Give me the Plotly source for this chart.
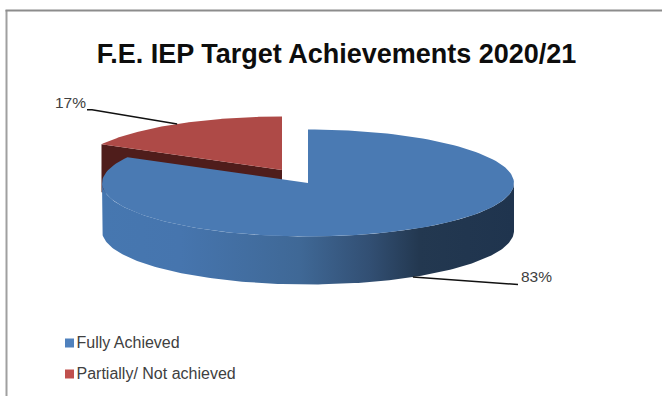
import numpy as np
import plotly.graph_objects as go

categories = ["Fully Achieved", "Partially/ Not achieved"]
shares = [83, 17]
value_labels = ["83%", "17%"]
title_text = "F.E. IEP Target Achievements 2020/21"

TOP_COLORS = ["#4A7AB3", "#AE4A47"]
LEGEND_COLORS = ["#4F81BD", "#C0504D"]
CUT_FACE_COLOR = "#4F1D1B"
TEXT_COLOR = "#404040"

# Projected ellipse of the tilted pie, in page pixels
RX, RY, DEPTH = 206, 53.5, 48
BLUE_CENTER = (308, 183)
RED_CENTER = (282, 170)


def ellipse(center, start_deg, end_deg, drop=0, n=160):
    """Points on the rim, with angles running clockwise from twelve o'clock."""
    t = np.radians(np.linspace(start_deg, end_deg, n))
    return center[0] + RX * np.sin(t), center[1] - RY * np.cos(t) + drop


sweep_blue = 360 * shares[0] / sum(shares)
mid_blue = sweep_blue / 2
mid_red = sweep_blue + (360 - sweep_blue) / 2

fig = go.Figure()


def polygon(x, y, color, **extra):
    fig.add_trace(go.Scatter(
        x=list(x), y=list(y), mode="lines", fill="toself", fillcolor=color,
        line=dict(width=0), hoverinfo="skip", showlegend=False, **extra,
    ))


# Exploded red slice: inner cut face first, then its top
ax, ay = ellipse(RED_CENTER, sweep_blue, sweep_blue, n=1)
polygon(
    [ax[0], RED_CENTER[0], RED_CENTER[0], ax[0], ax[0]],
    [ay[0], RED_CENTER[1], RED_CENTER[1] + DEPTH, ay[0] + DEPTH, ay[0]],
    CUT_FACE_COLOR,
)
rx, ry = ellipse(RED_CENTER, sweep_blue, 360)
polygon(np.r_[RED_CENTER[0], rx, RED_CENTER[0]], np.r_[RED_CENTER[1], ry, RED_CENTER[1]], TOP_COLORS[1])

# Blue slice: shaded outer wall, then its top
ux, uy = ellipse(BLUE_CENTER, 90, 270)
lx, ly = ellipse(BLUE_CENTER, 270, 90, drop=DEPTH)
fig.add_trace(go.Scatter(
    x=np.r_[ux, lx, ux[0]], y=np.r_[uy, ly, uy[0]], mode="lines", fill="toself",
    fillgradient=dict(
        type="horizontal",
        colorscale=[[0, "#4677B0"], [0.19, "#4675AE"], [0.48, "#3F6896"],
                    [0.65, "#324F73"], [0.77, "#233850"], [1, "#1F344E"]],
    ),
    line=dict(width=0), hoverinfo="skip", showlegend=False,
))
bx, by = ellipse(BLUE_CENTER, 0, sweep_blue)
polygon(np.r_[BLUE_CENTER[0], bx, BLUE_CENTER[0]], np.r_[BLUE_CENTER[1], by, BLUE_CENTER[1]], TOP_COLORS[0])

# Leader lines start at the middle of each slice's rim
ex, ey = ellipse(BLUE_CENTER, mid_blue, mid_blue, drop=DEPTH, n=1)
fx, fy = ellipse(RED_CENTER, mid_red, mid_red, n=1)
fig.add_trace(go.Scatter(x=[ex[0], 518], y=[ey[0], 284.5], mode="lines",
                         line=dict(color="#111111", width=1.5), hoverinfo="skip", showlegend=False))
fig.add_trace(go.Scatter(x=[fx[0], 92, 87], y=[fy[0], 109.7, 109.7], mode="lines",
                         line=dict(color="#111111", width=1.5), hoverinfo="skip", showlegend=False))

# Value labels
fig.add_trace(go.Scatter(
    x=[521, 86], y=[278.5, 104.5], mode="text", text=value_labels,
    textposition=["middle right", "middle left"],
    textfont=dict(family="Liberation Sans", size=15.5, color=TEXT_COLOR),
    hoverinfo="skip", showlegend=False,
))

# Key below the pie: swatches and their captions
fig.add_trace(go.Scatter(
    x=[69.5, 69.5], y=[343, 374], mode="markers",
    marker=dict(symbol="square", size=9, color=LEGEND_COLORS),
    hoverinfo="skip", showlegend=False,
))
fig.add_trace(go.Scatter(
    x=[76.5, 76.5], y=[343.5, 374.5], mode="text", text=categories,
    textposition="middle right",
    textfont=dict(family="Liberation Sans", size=16, color=TEXT_COLOR),
    hoverinfo="skip", showlegend=False,
))

fig.update_layout(
    width=662, height=396, margin=dict(l=0, r=0, t=0, b=0),
    paper_bgcolor="white", plot_bgcolor="white", showlegend=False,
    title=dict(text="<b>" + title_text + "</b>", x=336.5 / 662, xanchor="center",
               y=1 - 54 / 396, yanchor="middle",
               font=dict(family="Liberation Sans", size=27, color="#0D0D0D")),
    xaxis=dict(range=[0, 662], visible=False, fixedrange=True),
    yaxis=dict(range=[396, 0], visible=False, fixedrange=True),
    shapes=[
        dict(type="line", x0=6.5, x1=6.5, y0=10, y1=396, line=dict(color="#A0A0A0", width=2)),
        dict(type="line", x0=5.5, x1=662, y0=10.5, y1=10.5, line=dict(color="#8C8C8C", width=2)),
    ],
)

fig.write_html("out.html", config=dict(displayModeBar=False))
